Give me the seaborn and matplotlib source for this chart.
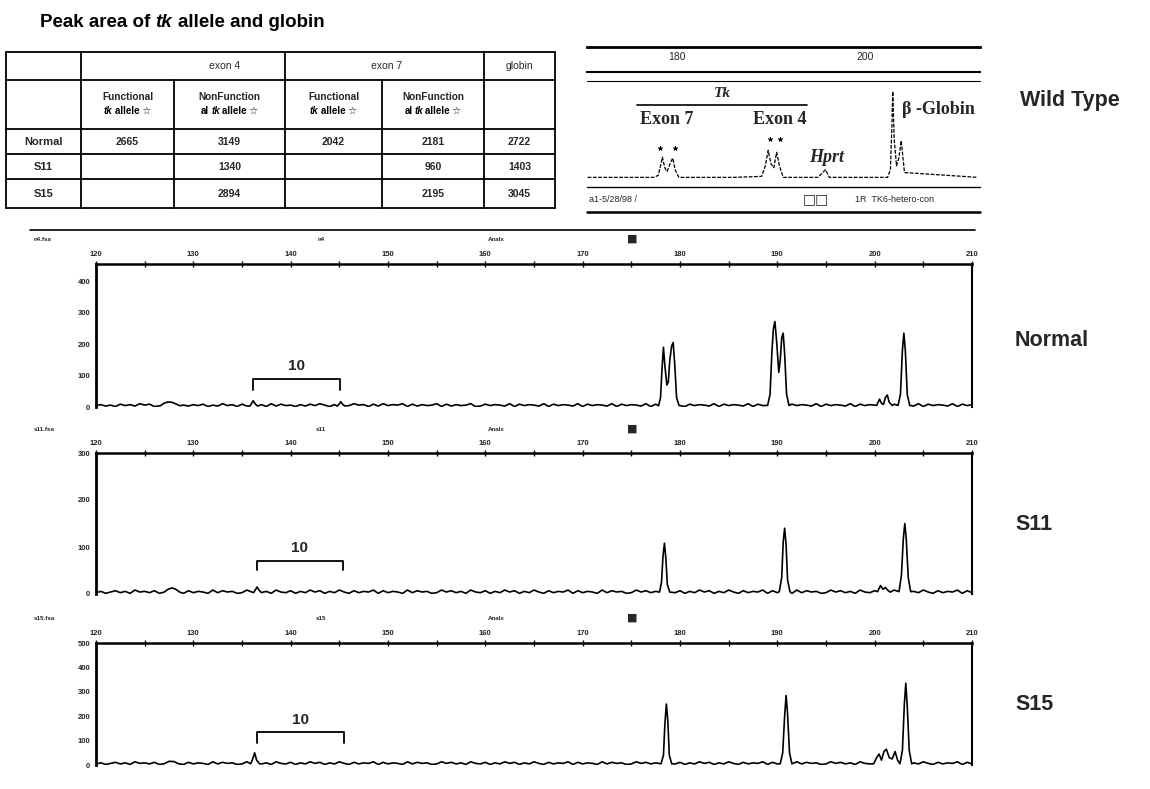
import numpy as np
import pandas as pd
import matplotlib
matplotlib.use("Agg")
import matplotlib.pyplot as plt
import seaborn as sns
from matplotlib.offsetbox import TextArea, HPacker, AnnotationBbox

sns.set_theme(style="white")
plt.rcParams['font.family'] = ['Liberation Sans', 'DejaVu Sans']

# ---------------- data ----------------
title_parts = ["Peak area of", "tk", "allele and globin"]

group_headers = ["exon 4", "exon 7", "globin"]
sub_line1 = ["Functional", "NonFunction", "Functional", "NonFunction", ""]
sub_line2_pre = ["", "al", "", "al", ""]
row_names = ["Normal", "S11", "S15"]
table_values = [
    ["2665", "3149", "2042", "2181", "2722"],
    ["", "1340", "", "960", "1403"],
    ["", "2894", "", "2195", "3045"],
]

sample_labels = ["Normal", "S11", "S15"]
file_names = ["n4", "s11", "s15"]

x_ticks = [120, 130, 140, 150, 160, 170, 180, 190, 200, 210]
normal_yticks = [0, 100, 200, 300, 400]
s11_yticks = [0, 100, 200, 300]
s15_yticks = [0, 100, 200, 300, 400, 500]

# baseline noise level every 0.5 bp from 120 bp (digits, in units of the scale)
normal_noise = ("3524163527461525374253614273516243517263415263741526374516273547"
                "1625347162534712635427163542716354271635427163542716354271635427"
                "16354271635427163542716354271635427163542716354271635427")
normal_noise_scale = 1.5
s11_noise = ("2413524163425134261524316253412635241632514263514263152436152431"
             "6253412635241632514263514263152436152431625341263524163251426351"
             "42631524361524316253412635241632514263514263152436152431")
s11_noise_scale = 1.4
s15_noise = ("2413524163425134261524316253412635241632514263514263152436152431"
             "6253412635241632514263514263152436152431625341263524163251426351"
             "42631524361524316253412635241632514263514263152436152431")
s15_noise_scale = 2.2

# peak segments: (bp list, height list)
normal_segments = [
    ([126.6, 127.0, 127.4, 127.8, 128.2, 128.6], [4, 12, 16, 15, 10, 4]),
    ([135.8, 136.0, 136.15, 136.35, 136.6], [3, 12, 20, 10, 3]),
    ([144.8, 145.0, 145.15, 145.35, 145.6], [3, 10, 17, 8, 3]),
    ([177.8, 178.0, 178.15, 178.3, 178.45, 178.65, 178.8, 178.95, 179.15, 179.3, 179.45, 179.65, 179.9],
     [4, 30, 120, 190, 130, 70, 80, 150, 195, 205, 140, 30, 5]),
    ([189.0, 189.25, 189.45, 189.6, 189.75, 189.95, 190.15, 190.3, 190.45, 190.6, 190.75, 190.95, 191.2],
     [5, 40, 180, 250, 272, 200, 110, 150, 220, 235, 170, 40, 5]),
    ([200.2, 200.5, 200.7, 200.9, 201.1, 201.3, 201.5, 201.8], [5, 25, 12, 8, 30, 38, 15, 5]),
    ([202.4, 202.65, 202.85, 203.0, 203.15, 203.35, 203.6], [5, 40, 180, 235, 180, 40, 5]),
]
s11_segments = [
    ([127.0, 127.4, 127.8, 128.2, 128.6], [4, 10, 13, 10, 4]),
    ([136.2, 136.4, 136.55, 136.75, 137.0], [3, 10, 15, 8, 3]),
    ([177.9, 178.1, 178.25, 178.4, 178.55, 178.7, 178.95], [4, 25, 80, 108, 75, 20, 4]),
    ([190.2, 190.45, 190.6, 190.75, 190.9, 191.05, 191.3], [5, 35, 110, 140, 105, 30, 5]),
    ([200.3, 200.6, 200.85, 201.1, 201.35, 201.6], [5, 18, 10, 14, 8, 4]),
    ([202.5, 202.75, 202.95, 203.1, 203.25, 203.45, 203.7], [5, 40, 120, 150, 115, 35, 5]),
]
s15_segments = [
    ([127.0, 127.5, 128.0, 128.5], [5, 15, 14, 5]),
    ([135.9, 136.1, 136.3, 136.5, 136.8], [5, 25, 50, 20, 5]),
    ([178.05, 178.3, 178.45, 178.6, 178.75, 178.9, 179.15], [5, 40, 170, 250, 180, 40, 5]),
    ([190.3, 190.55, 190.75, 190.9, 191.05, 191.25, 191.5], [5, 50, 200, 285, 210, 50, 5]),
    ([199.9, 200.2, 200.45, 200.7, 200.95, 201.2, 201.5, 201.8, 202.1, 202.35],
     [5, 30, 45, 20, 55, 65, 30, 25, 55, 20]),
    ([202.6, 202.85, 203.05, 203.2, 203.35, 203.55, 203.8], [5, 60, 250, 335, 240, 60, 5]),
]

# "10" bracket: (start bp, end bp, leg bottom, top)
normal_bracket = (136.1, 145.1, 54, 89)
s11_bracket = (136.5, 145.4, 51, 70)
s15_bracket = (136.5, 145.5, 90, 135)
bracket_label = "10"

# wild type inset trace
wt_ticks = [180, 200]
wt_x = [170.5, 177.5, 178.0, 178.25, 178.45, 178.7, 178.95, 179.3, 179.55, 179.8, 180.2,
        186.0, 189.0, 189.4, 189.7, 190.0, 190.3, 190.6, 190.9, 191.3,
        195.0, 195.4, 195.8, 196.2, 202.4, 202.7, 202.85, 202.95, 203.1, 203.35,
        203.6, 203.85, 204.2, 212.0]
wt_y = [0, 0, 2, 12, 21, 10, 6, 15, 20, 8, 0,
        0, 1, 12, 28, 14, 10, 26, 12, 0,
        0, 4, 8, 0, 0, 8, 50, 89, 40, 12,
        20, 38, 5, 0]
wt_stars_x = [178.2, 179.8, 189.9, 191.0]
wt_stars_y = [30, 30, 40, 40]
tk_span = [175.8, 193.8]
wt_footer = "a1-5/28/98 /"
wt_footer2 = "1R  TK6-hetero-con"

# ---------------- figure ----------------
W, H = 1150, 789
fig = plt.figure(figsize=(W / 100, H / 100), dpi=100)
fig.patch.set_facecolor("white")

ov = fig.add_axes([0, 0, 1, 1])
ov.set_xlim(0, W)
ov.set_ylim(H, 0)
ov.axis("off")
ov.set_zorder(5)
ov.patch.set_alpha(0)


def px_axes(x0, y0, x1, y1):
    a = fig.add_axes([x0 / W, 1 - y1 / H, (x1 - x0) / W, (y1 - y0) / H])
    a.patch.set_alpha(0)
    return a


def rich(x, y, parts, styles, size, align=(0.5, 0.5), sep=2.5):
    kids = []
    for p, st in zip(parts, styles):
        if not p:
            continue
        props = dict(fontsize=size, fontweight="bold", color="black",
                     family=["Liberation Sans", "DejaVu Sans"])
        if st == "i":
            props["fontstyle"] = "italic"
        kids.append(TextArea(p, textprops=props))
    box = HPacker(children=kids, sep=sep, pad=0, align="baseline")
    ab = AnnotationBbox(box, (x, y), xycoords="data", box_alignment=align,
                        frameon=False, pad=0)
    ov.add_artist(ab)


# title
rich(40, 22, title_parts, ["n", "i", "n"], 13.5, align=(0, 0.5), sep=3.8)

# table
col_edges = [6, 81, 174, 285, 382, 484, 555]
row_edges = [52, 80, 129, 154, 179, 208]
lwt = 1.3
for y in row_edges:
    ov.plot([col_edges[0], col_edges[-1]], [y, y], color="black", lw=lwt)
for i, x in enumerate(col_edges):
    y0 = row_edges[1] if i in (2, 4) else row_edges[0]
    ov.plot([x, x], [y0, row_edges[-1]], color="black", lw=lwt)
grp_x = [225, 387, 519]
for g, gx in zip(group_headers, grp_x):
    ov.text(gx, (row_edges[0] + row_edges[1]) / 2, g, ha="center", va="center", fontsize=7.5)
for j in range(5):
    cx = (col_edges[j + 1] + col_edges[j + 2]) / 2
    if sub_line1[j]:
        ov.text(cx, 97, sub_line1[j], ha="center", va="center", fontsize=7.3, fontweight="bold")
        rich(cx, 111, [sub_line2_pre[j], "tk", "allele \u2606"], ["n", "i", "n"], 7, sep=1.5)
for r, name in enumerate(row_names):
    cy = (row_edges[r + 2] + row_edges[r + 3]) / 2
    ov.text((col_edges[0] + col_edges[1]) / 2, cy, name, ha="center", va="center",
            fontsize=8, fontweight="bold")
    for j, v in enumerate(table_values[r]):
        cx = (col_edges[j + 1] + col_edges[j + 2]) / 2
        ov.text(cx, cy, v, ha="center", va="center", fontsize=7.5, fontweight="bold")

# ---------------- wild type inset ----------------
wt_xlim = (170.43, 212.23)
ax_sc = px_axes(587, 47, 980, 72)
ax_sc.set_xlim(*wt_xlim)
ax_sc.set_ylim(0, 1)
for s in ["left", "right"]:
    ax_sc.spines[s].set_visible(False)
ax_sc.spines["top"].set_linewidth(2)
ax_sc.spines["bottom"].set_linewidth(1.5)
for s in ["top", "bottom"]:
    ax_sc.spines[s].set_color("black")
ax_sc.set_xticks(wt_ticks)
ax_sc.set_yticks([])
ax_sc.tick_params(axis="x", direction="in", length=4, width=1, color="black", labelbottom=False)
for t in wt_ticks:
    ax_sc.text(t, 0.6, str(t), ha="center", va="center", fontsize=7.5)

ax_wt = px_axes(587, 81, 980, 187)
wt_df = pd.DataFrame({"bp": wt_x, "rfu": wt_y})
sns.lineplot(data=wt_df, x="bp", y="rfu", ax=ax_wt, color="black", linewidth=0.9,
             estimator=None, sort=False)
ax_wt.lines[-1].set_dashes([3, 1.2])
ax_wt.set_xlim(*wt_xlim)
ax_wt.set_ylim(-10, 100)
ax_wt.axis("off")
ax_wt.scatter(wt_stars_x, wt_stars_y, marker=(5, 2, 0), s=8, color="black", linewidths=0.6)
ax_wt.plot(tk_span, [75, 75], color="black", lw=1.2)
serif = ["Liberation Serif", "DejaVu Serif"]
ax_wt.text(np.mean(tk_span), 80, "Tk", ha="center", va="bottom", fontsize=11,
           fontweight="bold", fontstyle="italic", family=serif)
ax_wt.text(178.9, 60, "Exon 7", ha="center", va="center", fontsize=13, fontweight="bold", family=serif)
ax_wt.text(190.9, 60, "Exon 4", ha="center", va="center", fontsize=13, fontweight="bold", family=serif)
ax_wt.text(195.9, 21, "Hprt", ha="center", va="center", fontsize=13, fontweight="bold",
           fontstyle="italic", family=serif)
ax_wt.text(203.9, 70, "\u03b2 -Globin", ha="left", va="center", fontsize=13, fontweight="bold",
           family=serif, clip_on=False)
for y, lw in [(81, 0.8), (187, 1.0), (212, 1.8)]:
    ov.plot([587, 980], [y, y], color="black", lw=lw)
ov.text(589, 199, wt_footer, ha="left", va="center", fontsize=6.5)
ov.text(816, 199, "\u25a1\u25a1", ha="center", va="center", fontsize=10, family=["DejaVu Sans"])
ov.text(855, 199, wt_footer2, ha="left", va="center", fontsize=6.5)
ov.text(1020, 100, "Wild Type", ha="left", va="center", fontsize=15.5, fontweight="bold")

# separator line above the electropherograms
ov.plot([30, 975], [230, 230], color="black", lw=1.2)


# ---------------- electropherogram panels ----------------
def build_trace(noise, scale, segments):
    bx = 120 + 0.5 * np.arange(len(noise))
    by = np.array([int(c) for c in noise], dtype=float) * scale
    keep = bx <= 210
    for sx, sy in segments:
        keep &= ~((bx >= min(sx) - 0.1) & (bx <= max(sx) + 0.1))
    xs = np.concatenate([bx[keep]] + [np.array(s[0]) for s in segments])
    ys = np.concatenate([by[keep]] + [np.array(s[1], dtype=float) for s in segments])
    order = np.argsort(xs)
    return pd.DataFrame({"bp": xs[order], "rfu": ys[order]})


panels = [
    dict(box=(96, 264, 972, 407), ylim=(0, 455), yt=normal_yticks, noise=normal_noise,
         sc=normal_noise_scale, seg=normal_segments, br=normal_bracket, lab_y=239, name_y=340),
    dict(box=(96, 453, 972, 594), ylim=(0, 300), yt=s11_yticks, noise=s11_noise,
         sc=s11_noise_scale, seg=s11_segments, br=s11_bracket, lab_y=429, name_y=525),
    dict(box=(96, 643, 972, 765), ylim=(0, 500), yt=s15_yticks, noise=s15_noise,
         sc=s15_noise_scale, seg=s15_segments, br=s15_bracket, lab_y=618, name_y=705),
]

for i, p in enumerate(panels):
    ax = px_axes(*p["box"])
    df = build_trace(p["noise"], p["sc"], p["seg"])
    sns.lineplot(data=df, x="bp", y="rfu", ax=ax, color="black", linewidth=1.2,
                 estimator=None, sort=False)
    ax.set_xlim(120, 210)
    ax.set_ylim(*p["ylim"])
    ax.set_xlabel("")
    ax.set_ylabel("")
    ax.xaxis.tick_top()
    ax.set_xticks(x_ticks)
    ax.set_xticks(np.arange(125, 210, 10), minor=True)
    ax.set_yticks(p["yt"])
    ax.set_yticks(np.arange(50, p["ylim"][1], 100), minor=True)
    ax.tick_params(which="both", direction="inout", length=5, width=1, color="black",
                   labelsize=5.5, pad=1.5)
    ax.tick_params(which="minor", length=4)
    ax.tick_params(axis="x", which="both", top=True, bottom=False, labeltop=True, labelbottom=False)
    for lab in ax.get_xticklabels() + ax.get_yticklabels():
        lab.set_fontweight("bold")
    ax.spines["bottom"].set_visible(False)
    ax.spines["top"].set_linewidth(1.8)
    ax.spines["left"].set_linewidth(2.0)
    ax.spines["right"].set_linewidth(1.5)
    for s in ["top", "left", "right"]:
        ax.spines[s].set_color("black")
    ax.grid(False)
    b0, b1, leg, top = p["br"]
    ax.plot([b0, b0, b1, b1], [leg, top, top, leg], color="black", lw=1.3)
    ax.text((b0 + b1) / 2, top + (p["ylim"][1] * 0.04), bracket_label, ha="center", va="bottom",
            fontsize=11, fontweight="bold")
    nm = file_names[i]
    ov.text(34, p["lab_y"], nm + ".fsa", ha="left", va="center", fontsize=4.5, fontweight="bold")
    ov.text(321, p["lab_y"], nm, ha="center", va="center", fontsize=4.5, fontweight="bold")
    ov.text(496, p["lab_y"], "Analx", ha="center", va="center", fontsize=4.5, fontweight="bold")
    ov.text(632, p["lab_y"], "\u25a0", ha="center", va="center", fontsize=8, family=["DejaVu Sans"])
    ov.text(1015, p["name_y"], sample_labels[i], ha="left", va="center", fontsize=15.5,
            fontweight="bold")

fig.savefig("out.png", dpi=100, facecolor="white")
